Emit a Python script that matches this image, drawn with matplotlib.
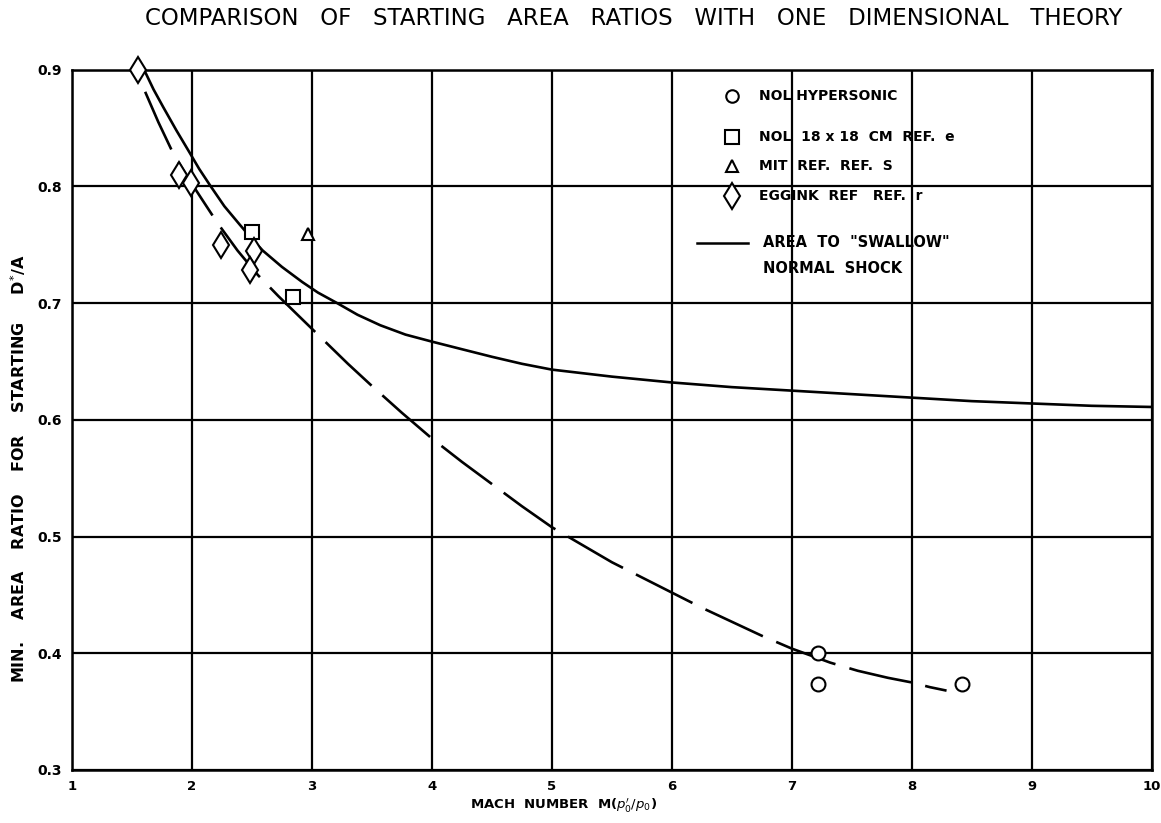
import matplotlib
matplotlib.use("Agg")
import matplotlib.pyplot as plt

# data
nol_hyper_x = [7.22, 7.22, 8.42]
nol_hyper_y = [0.400, 0.374, 0.374]

nol_18_x = [2.50, 2.84]
nol_18_y = [0.761, 0.705]

mit_x = [2.97]
mit_y = [0.759]

eggink_x = [1.55, 1.89, 1.99, 2.24, 2.52, 2.48]
eggink_y = [0.900, 0.810, 0.803, 0.750, 0.745, 0.728]

# "swallow" normal shock curve (solid)
swallow_x = [1.61, 1.68, 1.76, 1.87, 1.98, 2.06, 2.15, 2.27, 2.40, 2.50, 2.59, 2.75, 2.92, 3.05,
             3.21, 3.38, 3.57, 3.78, 4.0, 4.23, 4.5, 4.75, 5.0, 5.5, 6.0, 6.5, 7.0, 7.5, 8.0,
             8.5, 9.0, 9.5, 10.0]
swallow_y = [0.898, 0.883, 0.868, 0.848, 0.829, 0.815, 0.801, 0.783, 0.767, 0.755, 0.745, 0.731,
             0.718, 0.709, 0.700, 0.690, 0.681, 0.673, 0.667, 0.661, 0.654, 0.648, 0.643, 0.637,
             0.632, 0.628, 0.625, 0.622, 0.619, 0.616, 0.614, 0.612, 0.611]

# dashed fairing through the data
dashed_x = [1.61, 1.72, 1.84, 1.95, 2.07, 2.21, 2.38, 2.55, 2.72, 2.90, 3.10, 3.30, 3.50, 3.75,
            4.0, 4.25, 4.5, 4.75, 5.0, 5.25, 5.5, 5.75, 6.0, 6.25, 6.5, 6.75, 7.0, 7.16,
            7.32, 7.55, 7.8, 8.0, 8.15, 8.29]
dashed_y = [0.881, 0.855, 0.829, 0.810, 0.791, 0.769, 0.745, 0.724, 0.706, 0.688, 0.668, 0.648,
            0.629, 0.606, 0.584, 0.564, 0.545, 0.526, 0.508, 0.493, 0.478, 0.465, 0.452,
            0.439, 0.427, 0.415, 0.404, 0.398, 0.392, 0.385, 0.379, 0.375, 0.371, 0.368]

x_ticks = [1, 2, 3, 4, 5, 6, 7, 8, 9, 10]
x_tick_labels = ["1", "2", "3", "4", "5", "6", "7", "8", "9", "10"]
y_ticks = [0.3, 0.4, 0.5, 0.6, 0.7, 0.8, 0.9]
y_tick_labels = ["0.3", "0.4", "0.5", "0.6", "0.7", "0.8", "0.9"]

fig = plt.figure(figsize=(11.61, 8.23), dpi=100)
ax = fig.add_axes([0.062, 0.0644, 0.930, 0.851])

ax.set_xlim(1, 10)
ax.set_ylim(0.3, 0.9)
ax.set_xticks(x_ticks)
ax.set_xticklabels(x_tick_labels, fontsize=9.5, fontweight="bold")
ax.set_yticks(y_ticks)
ax.set_yticklabels(y_tick_labels, fontsize=10, fontweight="bold")
ax.tick_params(length=0, pad=7)
ax.grid(True, color="black", linewidth=1.6)
ax.set_axisbelow(True)
for s in ax.spines.values():
    s.set_linewidth(1.8)

ax.plot(swallow_x, swallow_y, color="black", linewidth=1.9, zorder=3)
ax.plot(dashed_x, dashed_y, color="black", linewidth=1.9, dashes=(24, 5.5), zorder=3)

mk = dict(linestyle="none", markerfacecolor="white", markeredgecolor="black",
          markeredgewidth=1.5, zorder=4, clip_on=False)
ax.plot(nol_hyper_x, nol_hyper_y, marker="o", markersize=10, **mk)
ax.plot(nol_18_x, nol_18_y, marker="s", markersize=10, **mk)
ax.plot(mit_x, mit_y, marker="^", markersize=9, **mk)
ax.plot(eggink_x, eggink_y, marker="d", markersize=13, **mk)

# hand-placed legend block
leg_font = dict(fontsize=10, fontweight="bold", va="center", ha="left", transform=ax.transAxes)
lx_mark = 0.611
lx_text = 0.636
legend_rows = [
    ("o", 9, "NOL HYPERSONIC", 0.962),
    ("s", 10, "NOL  18 x 18  CM  REF.  e", 0.904),
    ("^", 8, "MIT  REF.  REF.  S", 0.863),
    ("d", 13, "EGGINK  REF   REF.  r", 0.820),
]
for m, ms, label, yy in legend_rows:
    ax.plot([lx_mark], [yy], marker=m, markersize=ms, transform=ax.transAxes, **mk)
    ax.text(lx_text, yy, label, **leg_font)
ax.plot([0.579, 0.626], [0.753, 0.753], color="black", linewidth=1.8, transform=ax.transAxes)
ax.text(0.640, 0.753, 'AREA  TO  "SWALLOW"', fontsize=10.5, fontweight="bold",
        va="center", ha="left", transform=ax.transAxes)
ax.text(0.640, 0.716, "NORMAL  SHOCK", fontsize=10.5, fontweight="bold",
        va="center", ha="left", transform=ax.transAxes)

fig.text(0.546, 0.978, "COMPARISON   OF   STARTING   AREA   RATIOS   WITH   ONE   DIMENSIONAL   THEORY",
         ha="center", va="center", fontsize=16.5)
fig.text(0.016, 0.43, "MIN.    AREA    RATIO    FOR    STARTING     D$^{*}$/A", rotation=90,
         ha="center", va="center", fontsize=11.5, fontweight="bold")
fig.text(0.485, 0.022, "MACH  NUMBER  M($p_0'/p_0$)", ha="center", va="center",
         fontsize=9.5, fontweight="bold")

fig.savefig("out.png", dpi=100)
